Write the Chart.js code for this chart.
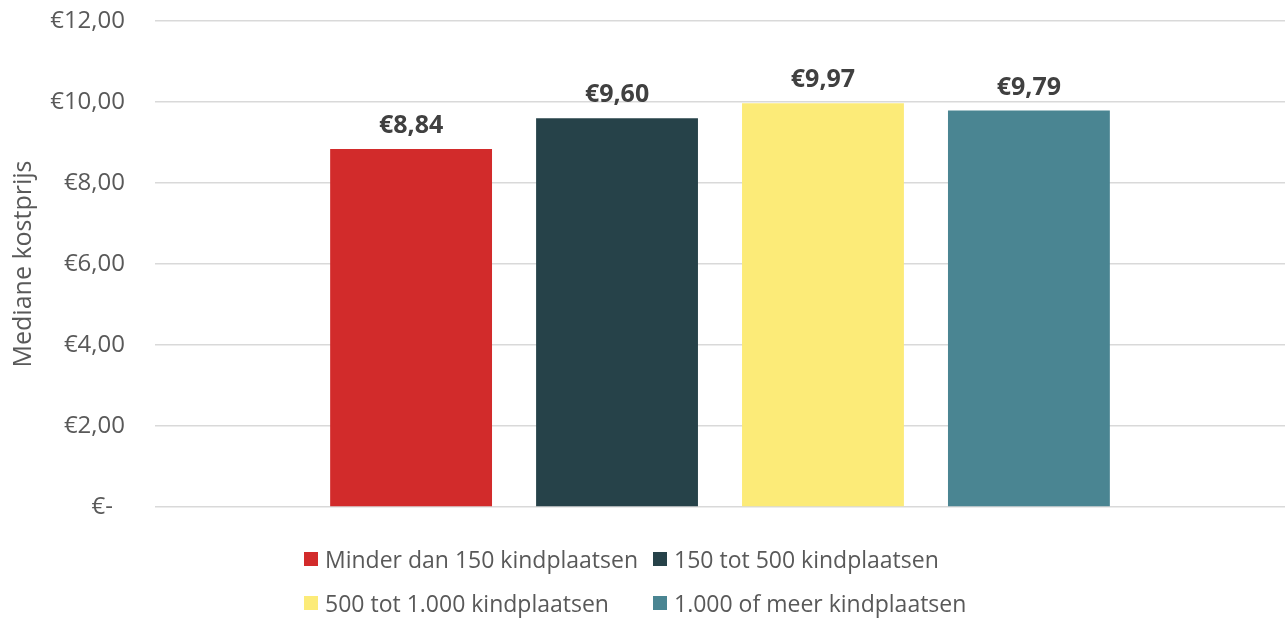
<!DOCTYPE html>
<html>
<head>
<meta charset="utf-8">
<script src="https://cdn.jsdelivr.net/npm/chart.js@4"></script>
<style>
  html, body { margin: 0; padding: 0; background: #fff; }
  #wrap { position: relative; width: 1285px; height: 619px; }
  #legend {
    position: absolute; left: 304px; top: 542px;
    display: grid; grid-template-columns: 349px auto; row-gap: 10px;
    font-family: "Open Sans", sans-serif; font-size: 23px; color: #595959;
  }
  #legend .item { display: flex; align-items: center; height: 34px; white-space: nowrap; }
  #legend .box { width: 14px; height: 14px; margin-right: 7px; flex: none; }
</style>
</head>
<body>
<div id="wrap">
  <canvas id="chart" width="1285" height="619"></canvas>
  <div id="legend"></div>
</div>
<script>
const seriesNames = [
    'Minder dan 150 kindplaatsen',
    '150 tot 500 kindplaatsen',
    '500 tot 1.000 kindplaatsen',
    '1.000 of meer kindplaatsen'
];
const seriesValues = [8.84, 9.60, 9.97, 9.79];
const seriesColors = ['#D22B2B', '#264249', '#FCEB78', '#4A8592'];
const yTicks = [0, 2, 4, 6, 8, 10, 12];

const FONT = '"Open Sans", sans-serif';

function euro(v) {
    if (v === 0) return '€-';
    return '€' + v.toFixed(2).replace('.', ',');
}

// draws the value above each bar, using the bar elements' positions
const valueLabels = {
    id: 'valueLabels',
    afterDatasetsDraw(chart) {
        const ctx = chart.ctx;
        ctx.save();
        ctx.font = `bold 25px ${FONT}`;
        ctx.fillStyle = '#404040';
        ctx.textAlign = 'center';
        ctx.textBaseline = 'alphabetic';
        chart.data.datasets.forEach((ds, i) => {
            const meta = chart.getDatasetMeta(i);
            meta.data.forEach((bar, j) => {
                ctx.fillText(euro(ds.data[j]), bar.x, bar.y - 16);
            });
        });
        ctx.restore();
    }
};

function buildLegend() {
    const legend = document.getElementById('legend');
    seriesNames.forEach((name, i) => {
        const item = document.createElement('div');
        item.className = 'item';
        const box = document.createElement('span');
        box.className = 'box';
        box.style.background = seriesColors[i];
        item.appendChild(box);
        item.appendChild(document.createTextNode(name));
        legend.appendChild(item);
    });
}

document.addEventListener("DOMContentLoaded", () => {
    const datasets = seriesNames.map((name, i) => ({
        label: name,
        data: [seriesValues[i]],
        backgroundColor: seriesColors[i],
        categoryPercentage: 0.729,
        barPercentage: 0.786
    }));

    new Chart(document.getElementById('chart').getContext('2d'), {
        type: 'bar',
        data: { labels: [''], datasets: datasets },
        options: {
            responsive: false,
            animation: false,
            layout: { padding: { top: 21, right: 0, left: 0, bottom: 112 } },
            plugins: {
                tooltip: { enabled: false },
                legend: { display: false }
            },
            scales: {
                x: {
                    grid: { display: false },
                    border: { display: false },
                    ticks: { display: false },
                    afterFit: axis => { axis.height = 0; }
                },
                y: {
                    min: 0,
                    max: 12,
                    afterBuildTicks: axis => {
                        axis.ticks = yTicks.map(v => ({ value: v }));
                    },
                    afterFit: axis => {
                        axis.width = 155;
                        axis.paddingTop = 0;
                        axis.paddingBottom = 0;
                    },
                    grid: { color: '#d9d9d9', lineWidth: 1.5, drawTicks: false },
                    border: { display: false },
                    ticks: {
                        padding: 30,
                        color: '#595959',
                        font: { family: FONT, size: 24 },
                        // accounting style: the dash sits a bit left of the column edge
                        callback: v => v === 0 ? euro(v) + '\u2002' : euro(v)
                    },
                    title: {
                        display: true,
                        text: 'Mediane kostprijs',
                        color: '#595959',
                        font: { family: FONT, size: 25 },
                        padding: { top: 9, bottom: 12 }
                    }
                }
            }
        },
        plugins: [valueLabels]
    });

    buildLegend();
});
</script>
</body>
</html>
